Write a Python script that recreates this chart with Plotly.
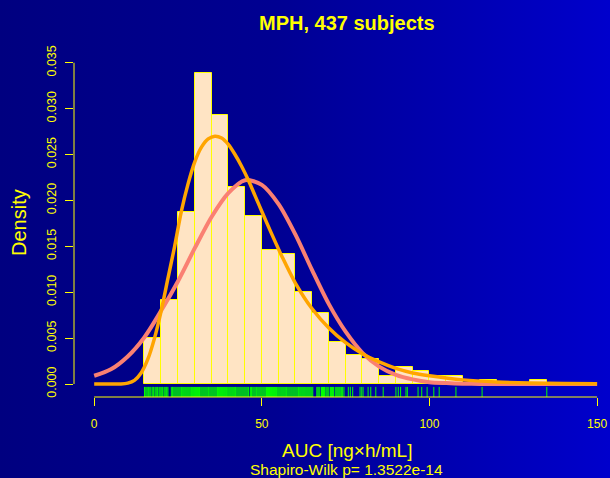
import base64
import plotly.graph_objects as go

# ---------------- data ----------------
n_subjects = 437
bin_left = [15, 20, 25, 30, 35, 40, 45, 50, 55, 60, 65, 70,
            75, 80, 85, 90, 95, 100, 105, 110, 115, 120, 125, 130]
bin_width = 5
bin_counts = [11, 20, 41, 74, 64, 47, 40, 32, 31, 22, 17, 10,
              7, 6, 2, 4, 3, 2, 2, 0, 1, 0, 0, 1]

normal_x = [0, 5, 10, 15, 20, 25, 30, 35, 40, 45, 50, 55, 60, 65, 70, 75,
            80, 85, 90, 95, 100, 105, 110, 115, 120, 130, 140, 150]
normal_y = [0.0009, 0.0016, 0.0030, 0.0051, 0.0080, 0.0112, 0.0148, 0.0182,
            0.0208, 0.0222, 0.0217, 0.0196, 0.0163, 0.0124, 0.0087, 0.0057,
            0.0034, 0.0019, 0.0010, 0.0005, 0.0002, 0.0001, 0.00004, 0.00001,
            0.0, 0.0, 0.0, 0.0]

lognormal_x = [0, 5, 8, 10, 12, 14, 16, 18, 20, 22, 24, 26, 28, 30, 32, 34,
               36, 38, 40, 42, 44, 46, 48, 50, 53, 56, 60, 65, 70, 75, 80,
               85, 90, 95, 100, 110, 120, 130, 140, 150]
lognormal_y = [0.0, 0.0, 0.00001, 0.0001, 0.0004, 0.0012, 0.0027, 0.0050,
               0.0080, 0.0115, 0.0150, 0.0188, 0.0218, 0.0242, 0.0258, 0.0267,
               0.0270, 0.0268, 0.0261, 0.0250, 0.0237, 0.0222, 0.0205, 0.0188,
               0.0163, 0.0139, 0.0110, 0.0082, 0.0061, 0.0045, 0.0033, 0.0024,
               0.0017, 0.0012, 0.0009, 0.00045, 0.00022, 0.0001, 0.00005, 0.00003]

rug_values = [
    15.0, 15.2, 15.5, 15.8, 16.1, 16.3, 16.6, 16.9, 17.3, 17.6, 17.8, 18.2,
    18.5, 18.8, 19.0, 19.4, 19.7, 20.0, 20.3, 20.5, 20.9, 21.2, 21.5, 21.7, 22.0,
    23.0, 23.3, 23.5, 23.8, 24.1, 24.4, 24.7, 25.0, 25.3, 25.6, 25.9, 26.1,
    26.4, 26.7, 27.0, 27.3, 27.6, 27.9, 28.2, 28.5, 28.8, 29.0, 29.3, 29.6,
    29.9, 30.2, 30.5, 30.8, 31.1, 31.4, 31.6, 31.9, 32.2, 32.5, 32.8, 33.1,
    33.4, 33.7, 34.0, 34.2, 34.5, 34.8, 35.1, 35.4, 35.7, 36.0, 36.3, 36.6,
    36.8, 37.1, 37.4, 37.7, 38.0, 38.3, 38.6, 38.9, 39.2, 39.5, 39.7, 40.0,
    40.3, 40.6, 40.9, 41.2, 41.5, 41.8, 42.1, 42.3, 42.6, 42.9, 43.2, 43.5,
    43.8, 44.1, 44.4, 44.7, 45.0, 45.3, 45.6, 45.9, 46.1,
    46.6, 46.9, 47.1, 47.4, 47.7, 48.0, 48.3, 48.5, 48.8, 49.1, 49.4, 49.7,
    50.0, 50.3, 50.6, 50.9, 51.2, 51.4, 51.7, 52.0, 52.3, 52.6, 52.9, 53.2,
    53.5, 53.8, 54.1, 54.4, 54.6, 54.9, 55.2, 55.5, 55.8, 56.1, 56.4, 56.7,
    57.0, 57.3, 57.5, 57.8, 58.1, 58.4, 58.7, 59.0, 59.3, 59.6, 59.9, 60.2,
    60.5, 60.8, 61.0, 61.3, 61.6, 61.9, 62.2, 62.5, 62.8, 63.1, 63.4, 63.7,
    64.0, 64.3, 64.6, 64.9, 65.2,
    66.4, 66.7, 67.0, 67.3, 67.8, 68.1, 68.4, 68.7, 69.1, 69.4, 69.7, 70.0,
    70.5, 70.8, 71.1, 71.4, 71.9, 72.2, 72.5, 72.8, 73.1, 73.4, 73.8,
    74.1, 74.5, 75.8, 76.4, 77.1, 79.3, 79.8, 80.2, 81.7, 82.5, 84.0, 86.2,
    90.0, 90.7, 91.4, 93.0, 93.4, 96.6, 97.7, 99.3, 101.3, 102.9, 107.9,
    115.7, 135.0,
]

x_ticks = [0, 50, 100, 150]
y_ticks = [0.000, 0.005, 0.010, 0.015, 0.020, 0.025, 0.030, 0.035]
y_tick_labels = ["0.000", "0.005", "0.010", "0.015", "0.020", "0.025", "0.030", "0.035"]

title_text = "<b>MPH, 437 subjects</b>"
x_label = "AUC [ng×h/mL]"
y_label = "Density"
sub_label = "Shapiro-Wilk p= 1.3522e-14"

# ---------------- styling / layout ----------------
W, H = 610, 478
ML, MR, MT, MB = 74, 0, 61, 81
PW, PH = W - ML - MR, H - MT - MB
X_RANGE = [-6.02, 153.85]
Y_RANGE = [-0.001416, 0.03519]

FONT = "Liberation Sans, Arial, Helvetica, sans-serif"
YELLOW = "#FFFF00"

bin_centers = [b + bin_width / 2 for b in bin_left]
densities = [c / (n_subjects * bin_width) for c in bin_counts]

fig = go.Figure()

fig.add_trace(go.Bar(
    x=bin_centers, y=densities, width=[bin_width] * len(bin_centers),
    marker=dict(color="#FFE4C4", line=dict(color=YELLOW, width=1)),
    hoverinfo="skip", showlegend=False,
))

fig.add_trace(go.Scatter(
    x=normal_x, y=normal_y, mode="lines",
    line=dict(color="#FA8072", width=4, shape="spline", smoothing=0.8),
    hoverinfo="skip", showlegend=False,
))
fig.add_trace(go.Scatter(
    x=lognormal_x, y=lognormal_y, mode="lines",
    line=dict(color="#FFA500", width=3.5, shape="spline", smoothing=0.8),
    hoverinfo="skip", showlegend=False,
))

rug_y0 = Y_RANGE[0]
rug_y1 = Y_RANGE[0] + 0.03 * (Y_RANGE[1] - Y_RANGE[0])
rx, ry = [], []
for v in rug_values:
    rx += [v, v, None]
    ry += [rug_y0, rug_y1, None]
fig.add_trace(go.Scatter(
    x=rx, y=ry, mode="lines", line=dict(color="#00FF00", width=1),
    hoverinfo="skip", showlegend=False, cliponaxis=False,
))

svg = (
    '<svg xmlns="http://www.w3.org/2000/svg" width="610" height="478" preserveAspectRatio="none">'
    '<defs><linearGradient id="g" x1="0" y1="0" x2="1" y2="0">'
    '<stop offset="0" stop-color="#000080"/>'
    '<stop offset="0.45" stop-color="#000092"/>'
    '<stop offset="1" stop-color="#0000CC"/>'
    '</linearGradient></defs>'
    '<rect width="610" height="478" fill="url(#g)"/></svg>'
)
bg_src = "data:image/svg+xml;base64," + base64.b64encode(svg.encode()).decode()

fig.update_layout(
    width=W, height=H, autosize=False,
    margin=dict(l=ML, r=MR, t=MT, b=MB, pad=0),
    paper_bgcolor="#000088", plot_bgcolor="rgba(0,0,0,0)",
    bargap=0, showlegend=False,
    font=dict(family=FONT, color=YELLOW),
    images=[dict(
        source=bg_src, xref="paper", yref="paper",
        x=-ML / PW, y=1 + MT / PH, sizex=W / PW, sizey=H / PH,
        xanchor="left", yanchor="top", sizing="stretch", layer="below",
    )],
    xaxis=dict(
        range=X_RANGE, tickvals=x_ticks, ticktext=[str(t) for t in x_ticks],
        ticks="outside", ticklen=8, tickwidth=1, tickcolor=YELLOW,
        tickfont=dict(family=FONT, size=12, color=YELLOW),
        ticklabelstandoff=8,
        showgrid=False, zeroline=False, showline=False,
    ),
    yaxis=dict(
        range=Y_RANGE, tickvals=y_ticks, ticktext=y_tick_labels,
        ticks="outside", ticklen=8, tickwidth=1, tickcolor=YELLOW,
        tickangle=-90, tickfont=dict(family=FONT, size=12.5, color=YELLOW),
        ticklabelstandoff=4,
        showgrid=False, zeroline=False, showline=False,
    ),
    shapes=[
        dict(type="line", xref="x", yref="paper", x0=x_ticks[0], x1=x_ticks[-1],
             y0=0, y1=0, line=dict(color=YELLOW, width=1)),
        dict(type="line", xref="paper", yref="y", x0=0, x1=0,
             y0=y_ticks[0], y1=y_ticks[-1], line=dict(color=YELLOW, width=1)),
    ],
    annotations=[
        dict(text=title_text, xref="paper", yref="paper",
             x=(346.5 - ML) / PW, y=(H - MB - 22.5) / PH,
             showarrow=False, xanchor="center", yanchor="middle",
             font=dict(family=FONT, size=20, color=YELLOW)),
        dict(text=y_label, xref="paper", yref="paper",
             x=(19 - ML) / PW, y=(H - MB - 223) / PH, textangle=-90,
             showarrow=False, xanchor="center", yanchor="middle",
             font=dict(family=FONT, size=20, color=YELLOW)),
        dict(text=x_label, xref="paper", yref="paper",
             x=(346.5 - ML) / PW, y=(H - MB - 450) / PH,
             showarrow=False, xanchor="center", yanchor="middle",
             font=dict(family=FONT, size=19, color=YELLOW)),
        dict(text=sub_label, xref="paper", yref="paper",
             x=(346.5 - ML) / PW, y=(H - MB - 469.5) / PH,
             showarrow=False, xanchor="center", yanchor="middle",
             font=dict(family=FONT, size=15.5, color=YELLOW)),
    ],
)

fig.write_html("out.html")
